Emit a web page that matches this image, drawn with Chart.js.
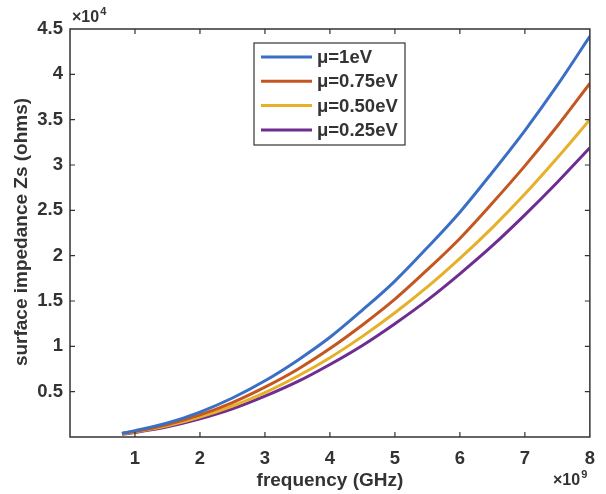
<!DOCTYPE html>
<html>
<head>
<meta charset="utf-8">
<script src="https://cdn.jsdelivr.net/npm/chart.js@4.4.1/dist/chart.umd.min.js"></script>
<style>
  html, body { margin: 0; padding: 0; background: #fff; }
  #wrap { width: 606px; height: 494px; position: relative; }
</style>
</head>
<body>
<div id="wrap"><canvas id="zsChart" width="606" height="494"></canvas></div>
<script>
// frequency in units of 1e9 Hz, impedance in units of 1e4 ohms
const freq = [0.8, 1, 1.5, 2, 2.5, 3, 3.5, 4, 4.5, 5, 5.5, 6, 6.5, 7, 7.5, 8];
const mu1 = [0.04, 0.07, 0.155, 0.275, 0.43, 0.62, 0.845, 1.10, 1.40, 1.72, 2.09, 2.48, 2.92, 3.38, 3.88, 4.42];
const mu075 = [0.04, 0.06, 0.137, 0.244, 0.38, 0.55, 0.745, 0.975, 1.235, 1.52, 1.845, 2.19, 2.58, 2.99, 3.43, 3.90];
const mu050 = [0.035, 0.055, 0.123, 0.219, 0.342, 0.49, 0.67, 0.875, 1.11, 1.37, 1.655, 1.97, 2.31, 2.68, 3.08, 3.50];
const mu025 = [0.03, 0.05, 0.112, 0.20, 0.31, 0.45, 0.61, 0.80, 1.01, 1.25, 1.51, 1.80, 2.11, 2.45, 2.81, 3.19];
const seriesLabels = ['μ=1eV', 'μ=0.75eV', 'μ=0.50eV', 'μ=0.25eV'];
const colors = ['#3b6fc6', '#c4561f', '#e6b128', '#6f2c91'];

const font = 'Liberation Sans, Arial, sans-serif';
const ink = '#333333';

const toPoints = (ys) => freq.map((f, i) => ({ x: f, y: ys[i] }));

// draws "×10" with a superscript exponent, baseline at y
function expLabel(ctx, x, y, exp) {
    ctx.font = 'bold 16px ' + font;
    ctx.textBaseline = 'alphabetic';
    ctx.textAlign = 'left';
    ctx.fillText('×10', x, y);
    const w = ctx.measureText('×10').width;
    ctx.font = 'bold 11px ' + font;
    ctx.fillText(exp, x + w + 1, y - 7);
}

// MATLAB-style box, inward ticks, in-axes legend and exponent labels
const matlabAxes = {
    id: 'matlabAxes',
    afterDraw(chart) {
        const { ctx, chartArea: a, scales } = chart;
        ctx.save();
        ctx.strokeStyle = ink;
        ctx.lineWidth = 1.5;
        ctx.strokeRect(a.left, a.top, a.right - a.left, a.bottom - a.top);

        const tl = 5;
        ctx.lineWidth = 1.2;
        ctx.beginPath();
        scales.x.ticks.forEach(t => {
            const px = scales.x.getPixelForValue(t.value);
            if (px <= a.left + 1 || px >= a.right - 1) return;
            ctx.moveTo(px, a.bottom); ctx.lineTo(px, a.bottom - tl);
            ctx.moveTo(px, a.top); ctx.lineTo(px, a.top + tl);
        });
        scales.y.ticks.forEach(t => {
            const py = scales.y.getPixelForValue(t.value);
            if (py <= a.top + 1 || py >= a.bottom - 1) return;
            ctx.moveTo(a.left, py); ctx.lineTo(a.left + tl, py);
            ctx.moveTo(a.right, py); ctx.lineTo(a.right - tl, py);
        });
        ctx.stroke();

        // legend
        const lx = 254, ly = 43, lw = 151, lh = 102;
        ctx.fillStyle = '#fff';
        ctx.fillRect(lx, ly, lw, lh);
        ctx.strokeStyle = ink;
        ctx.lineWidth = 1.2;
        ctx.strokeRect(lx, ly, lw, lh);
        ctx.font = 'bold 18.5px ' + font;
        ctx.textBaseline = 'middle';
        ctx.textAlign = 'left';
        chart.data.datasets.forEach((ds, i) => {
            const y = 57 + i * 24.3;
            ctx.strokeStyle = ds.borderColor;
            ctx.lineWidth = 3;
            ctx.beginPath();
            ctx.moveTo(261, y); ctx.lineTo(312, y);
            ctx.stroke();
            ctx.fillStyle = ink;
            ctx.fillText(ds.label, 317, y + 1);
        });

        // axis titles
        ctx.fillStyle = ink;
        ctx.font = 'bold 19px ' + font;
        ctx.textAlign = 'center';
        ctx.fillText('frequency (GHz)', (a.left + a.right) / 2, 481);
        ctx.save();
        ctx.translate(22, 232);
        ctx.rotate(-Math.PI / 2);
        ctx.fillText('surface impedance Zs (ohms)', 0, 0);
        ctx.restore();

        // exponent labels
        expLabel(ctx, 72, 22, '4');
        expLabel(ctx, 553, 485, '9');
        ctx.restore();
    }
};

new Chart(document.getElementById('zsChart').getContext('2d'), {
    type: 'line',
    data: {
        datasets: [mu1, mu075, mu050, mu025].map((ys, i) => ({
            label: seriesLabels[i],
            data: toPoints(ys),
            borderColor: colors[i],
            backgroundColor: colors[i],
            borderWidth: 3,
            pointRadius: 0,
            fill: false,
            cubicInterpolationMode: 'monotone'
        }))
    },
    options: {
        responsive: false,
        animation: false,
        layout: { padding: { left: 0, right: 16, top: 29, bottom: 0 } },
        plugins: {
            legend: { display: false },
            tooltip: { enabled: false }
        },
        scales: {
            x: {
                type: 'linear',
                min: 0,
                max: 8,
                afterFit: (s) => { s.height = 57; },
                grid: { display: false, drawTicks: false },
                border: { display: false },
                ticks: {
                    stepSize: 1,
                    padding: 11,
                    color: ink,
                    font: { family: font, size: 18.5, weight: 'bold' },
                    callback: (v) => v === 0 ? '' : v
                }
            },
            y: {
                min: 0,
                max: 4.5,
                afterFit: (s) => { s.width = 70; },
                grid: { display: false, drawTicks: false },
                border: { display: false },
                ticks: {
                    stepSize: 0.5,
                    padding: 7,
                    color: ink,
                    font: { family: font, size: 18.5, weight: 'bold' },
                    callback: (v) => v === 0 ? '' : v
                }
            }
        }
    },
    plugins: [matlabAxes]
});
</script>
</body>
</html>
